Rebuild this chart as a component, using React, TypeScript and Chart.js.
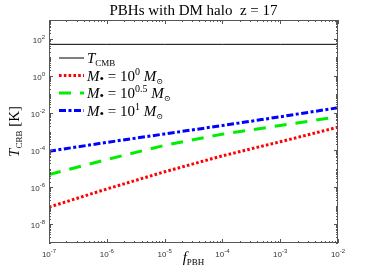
import React, { useEffect, useRef } from "react";
import { Chart, registerables } from "chart.js";

Chart.register(...registerables);

// ---- data ----
const fPBH = [1e-7, 1e-6, 1e-5, 1e-4, 1e-3, 1e-2];
const tCMB = [49.05, 49.05, 49.05, 49.05, 49.05, 49.05];
const tM1e0 = [8.5e-8, 8.1e-7, 6.8e-6, 4.9e-5, 2.8e-4, 1.7e-3];
const tM1e05 = [4.8e-6, 3.1e-5, 1.8e-4, 7.2e-4, 2.1e-3, 6.2e-3];
const tM1e1 = [8.7e-5, 2.6e-4, 7.4e-4, 2.1e-3, 6.2e-3, 1.9e-2];
const xTickExps = [-7, -6, -5, -4, -3, -2];
const yTickExps = [2, 0, -2, -4, -6, -8];
const legendExps = ["0", "0.5", "1"];

const SERIF = '"Liberation Serif", "DejaVu Serif", serif';
const SANS = '"Liberation Sans", "DejaVu Sans", sans-serif';

type Seg = { t: string; f: string; dy?: number };

function drawRich(ctx: CanvasRenderingContext2D, segs: Seg[], x: number, y: number, align: "left" | "center" | "right") {
  let total = 0;
  for (const s of segs) {
    ctx.font = s.f;
    total += ctx.measureText(s.t).width;
  }
  let cx = align === "left" ? x : align === "center" ? x - total / 2 : x - total;
  ctx.textAlign = "left";
  ctx.textBaseline = "alphabetic";
  for (const s of segs) {
    ctx.font = s.f;
    ctx.fillText(s.t, cx, y + (s.dy || 0));
    cx += ctx.measureText(s.t).width;
  }
}

const decorPlugin = {
  id: "decor",
  afterDraw(chart: any) {
    const ctx: CanvasRenderingContext2D = chart.ctx;
    const a = chart.chartArea;
    const xs = chart.scales.x;
    const ys = chart.scales.y;
    ctx.save();
    // frame
    ctx.strokeStyle = "#555";
    ctx.lineWidth = 1;
    ctx.strokeRect(a.left + 0.5, a.top + 0.5, a.right - a.left - 1, a.bottom - a.top - 1);
    // x ticks
    ctx.beginPath();
    for (let d = -7; d <= -2; d++) {
      for (let k = 1; k <= 9; k++) {
        const v = k * Math.pow(10, d);
        if (v > 1.0001e-2) break;
        const px = Math.round(xs.getPixelForValue(v)) + 0.5;
        const len = k === 1 ? 4 : 2;
        ctx.moveTo(px, a.bottom);
        ctx.lineTo(px, a.bottom - len);
        ctx.moveTo(px, a.top);
        ctx.lineTo(px, a.top + len);
      }
    }
    // y ticks
    for (let d = -9; d <= 3; d++) {
      for (let k = 1; k <= 9; k++) {
        const v = k * Math.pow(10, d);
        if (v > 1.0001e3) break;
        const py = Math.round(ys.getPixelForValue(v)) + 0.5;
        const len = k === 1 && d % 2 === 0 ? 4 : 2;
        ctx.moveTo(a.left, py);
        ctx.lineTo(a.left + len, py);
        ctx.moveTo(a.right, py);
        ctx.lineTo(a.right - len, py);
      }
    }
    ctx.stroke();

    // tick labels
    ctx.fillStyle = "#333";
    for (const e of xTickExps) {
      const px = xs.getPixelForValue(Math.pow(10, e));
      drawRich(ctx, [
        { t: "10", f: `8px ${SANS}` },
        { t: String(e), f: `6px ${SANS}`, dy: -4 },
      ], px, 257, "center");
    }
    for (const e of yTickExps) {
      const py = ys.getPixelForValue(Math.pow(10, e));
      drawRich(ctx, [
        { t: "10", f: `8px ${SANS}` },
        { t: String(e), f: `6px ${SANS}`, dy: -4 },
      ], 45, py + 4, "right");
    }

    // title
    ctx.fillStyle = "#000";
    drawRich(ctx, [{ t: "PBHs with DM halo  z = 17", f: `15px ${SERIF}` }], (a.left + a.right) / 2, 15, "center");

    // x axis title
    drawRich(ctx, [
      { t: "f", f: `italic 15px ${SERIF}` },
      { t: "PBH", f: `9px ${SERIF}`, dy: 3 },
    ], (a.left + a.right) / 2, 262, "center");

    // y axis title
    ctx.save();
    ctx.translate(19, (a.top + a.bottom) / 2);
    ctx.rotate(-Math.PI / 2);
    drawRich(ctx, [
      { t: "T", f: `italic 15px ${SERIF}` },
      { t: "CRB", f: `9px ${SERIF}`, dy: 3 },
      { t: " [K]", f: `15px ${SERIF}` },
    ], 0, 0, "center");
    ctx.restore();

    // legend
    const rows = [58, 75.5, 93, 110.5];
    chart.data.datasets.forEach((ds: any, i: number) => {
      const y = rows[i];
      ctx.save();
      ctx.strokeStyle = ds.borderColor;
      ctx.lineWidth = ds.borderWidth;
      ctx.setLineDash(ds.borderDash || []);
      ctx.beginPath();
      ctx.moveTo(59, y);
      ctx.lineTo(84, y);
      ctx.stroke();
      ctx.restore();
      ctx.fillStyle = "#000";
      let segs: Seg[];
      if (i === 0) {
        segs = [
          { t: "T", f: `italic 15px ${SERIF}` },
          { t: "CMB", f: `9px ${SERIF}`, dy: 3 },
        ];
      } else {
        segs = [
          { t: "M", f: `italic 15px ${SERIF}` },
          { t: "\u2022", f: `13px ${SERIF}`, dy: 2 },
          { t: " = 10", f: `15px ${SERIF}` },
          { t: legendExps[i - 1], f: `10px ${SERIF}`, dy: -6 },
          { t: " M", f: `italic 15px ${SERIF}` },
          { t: "\u2299", f: `8px ${SERIF}`, dy: 3 },
        ];
      }
      drawRich(ctx, segs, 87, y + 5, "left");
    });
    ctx.restore();
  },
};

export default function App() {
  const ref = useRef<HTMLCanvasElement>(null);
  useEffect(() => {
    if (!ref.current) return;
    const mk = (arr: number[]) => fPBH.map((x, i) => ({ x, y: arr[i] }));
    const chart = new Chart(ref.current, {
      type: "line",
      data: {
        datasets: [
          { label: "T_CMB", data: mk(tCMB), borderColor: "#000", borderWidth: 1, pointRadius: 0 },
          { label: "M=10^0", data: mk(tM1e0), borderColor: "#ff0000", borderWidth: 3, borderDash: [2.6, 2.2], pointRadius: 0 },
          { label: "M=10^0.5", data: mk(tM1e05), borderColor: "#00ee00", borderWidth: 3, borderDash: [12, 9], pointRadius: 0 },
          { label: "M=10^1", data: mk(tM1e1), borderColor: "#0000ff", borderWidth: 3, borderDash: [7, 2.5, 3, 2.5], pointRadius: 0 },
        ],
      },
      options: {
        animation: false,
        responsive: false,
        devicePixelRatio: 1,
        layout: { padding: { left: 0, right: 36, top: 20, bottom: 0 } },
        plugins: { legend: { display: false }, title: { display: false }, tooltip: { enabled: false } },
        scales: {
          x: {
            type: "logarithmic",
            min: 1e-7,
            max: 1e-2,
            ticks: { display: false },
            grid: { display: false },
            border: { display: false },
            afterFit: (s: any) => { s.height = 37; },
          },
          y: {
            type: "logarithmic",
            min: 1e-9,
            max: 1e3,
            ticks: { display: false },
            grid: { display: false },
            border: { display: false },
            afterFit: (s: any) => { s.width = 49; },
          },
        },
      } as any,
      plugins: [decorPlugin],
    });
    return () => chart.destroy();
  }, []);
  return (
    <div style={{ position: "absolute", left: 0, top: 0, width: 374, height: 280, background: "#fff" }}>
      <canvas ref={ref} width={374} height={280} />
    </div>
  );
}
